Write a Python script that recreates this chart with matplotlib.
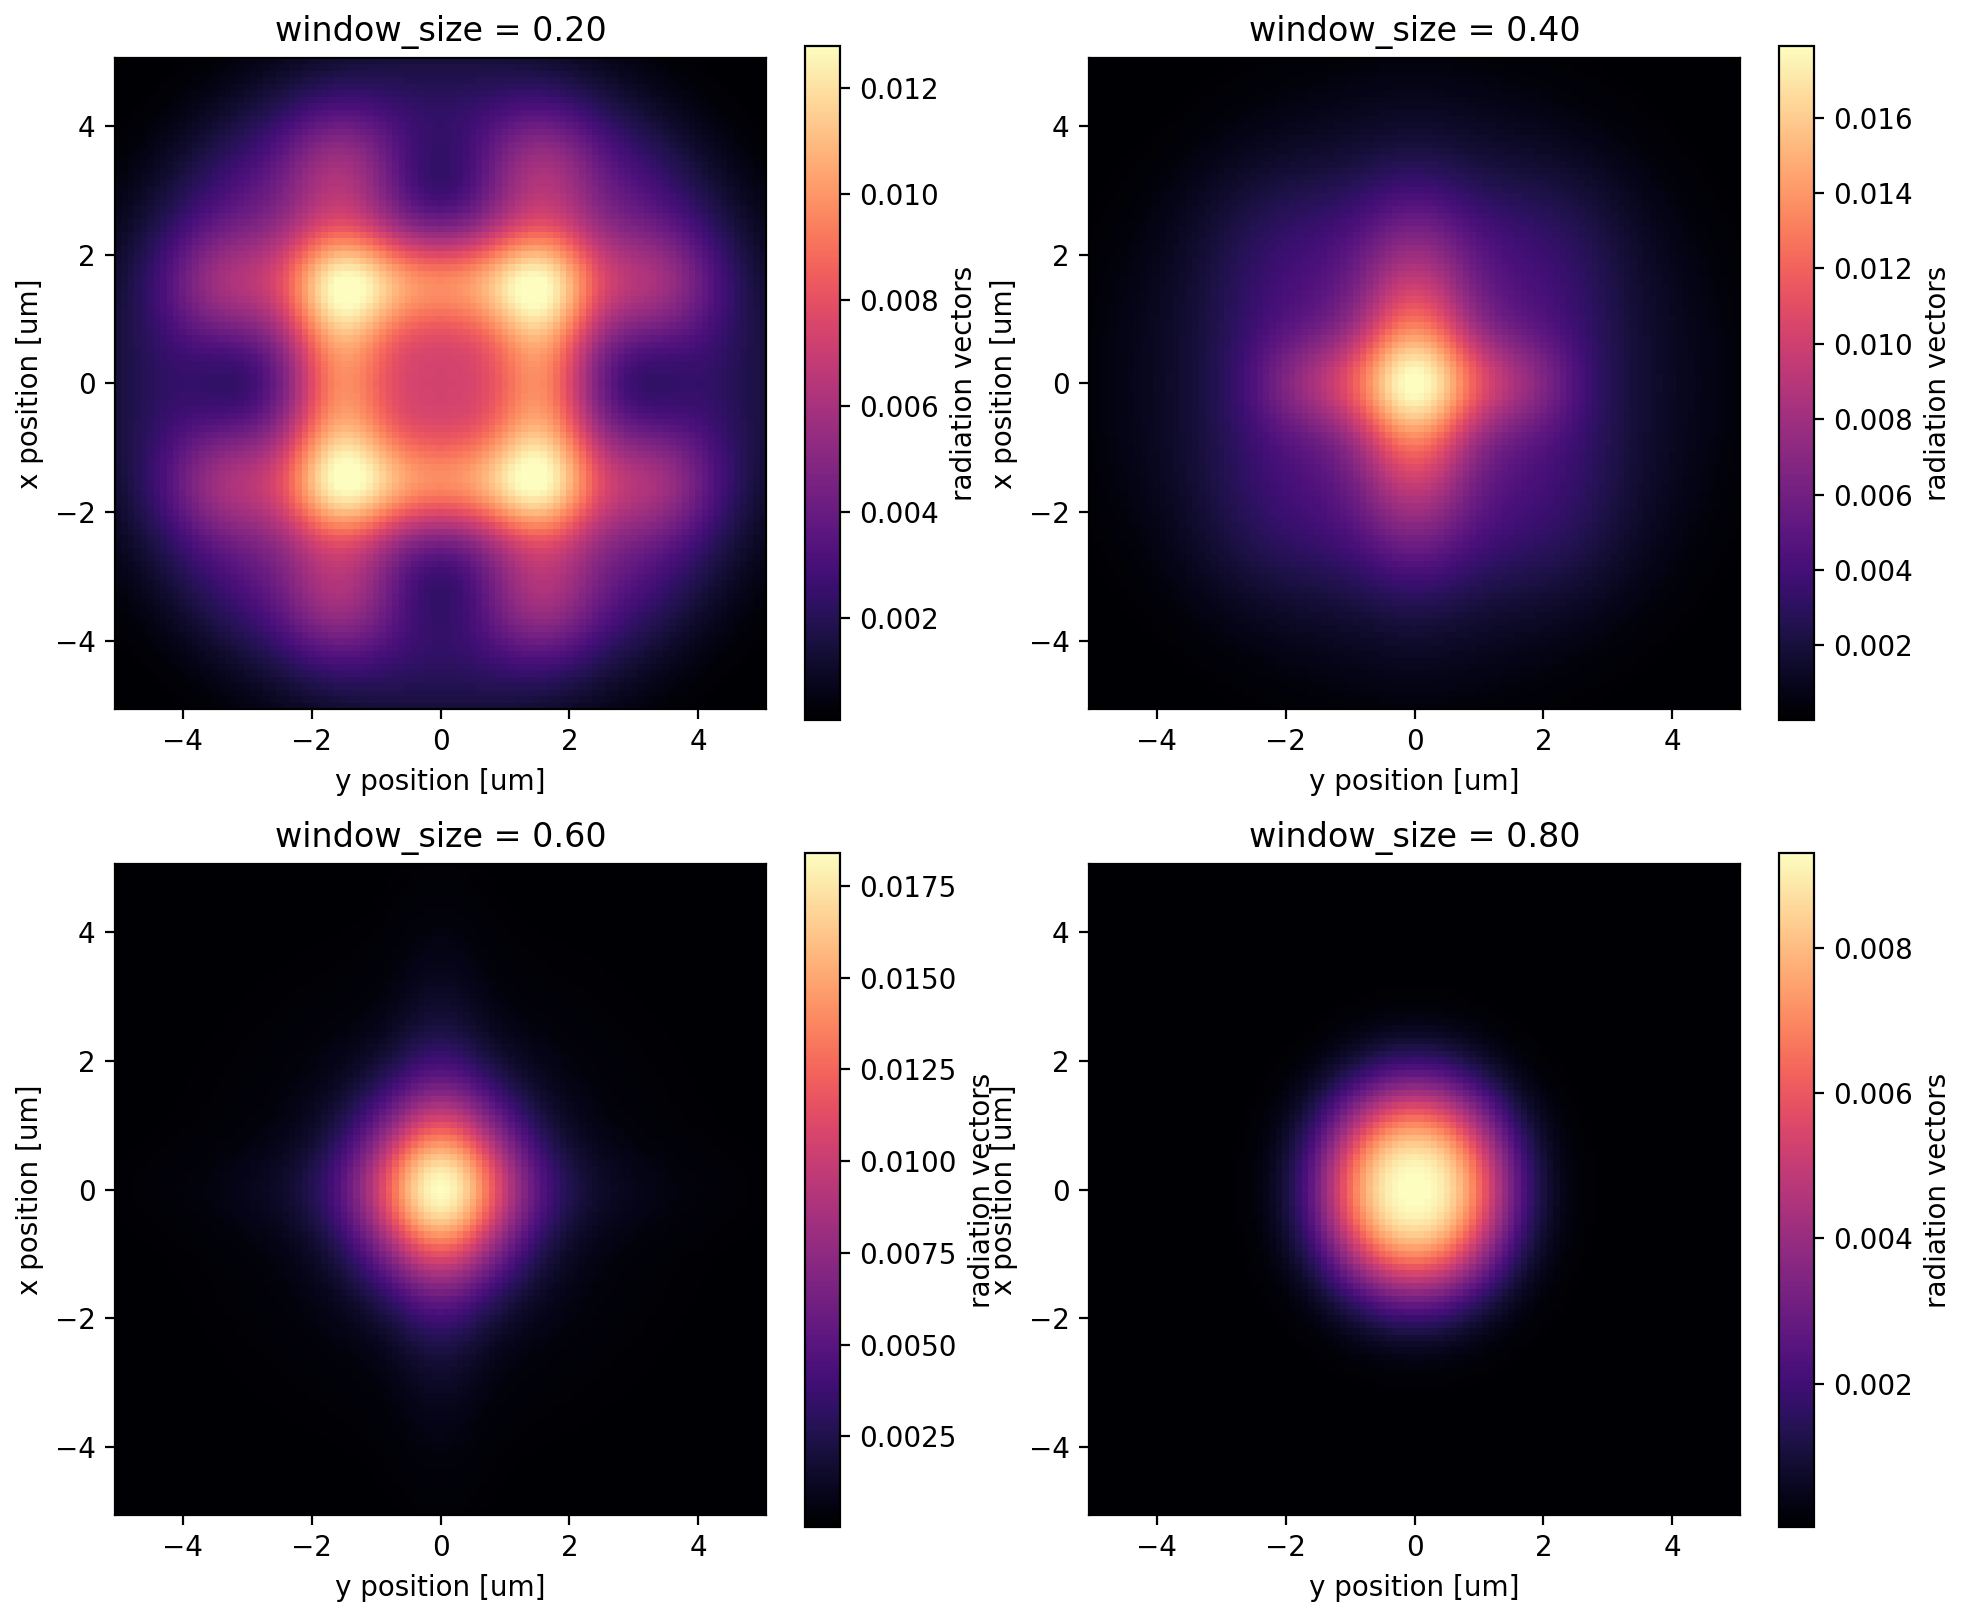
import numpy as np
import matplotlib
matplotlib.use("Agg")
import matplotlib.pyplot as plt

# grid (um), 101 samples per axis
grid = np.linspace(-5, 5, 101)

window_sizes = [0.20, 0.40, 0.60, 0.80]
vmins = [0.00008, 0.00002, 0.00003, 0.00003]
vmaxs = [0.0128, 0.0179, 0.0184, 0.0093]

# components: centre on the horizontal axis (h) and
# vertical axis (v), widths, edge powers, amplitude
# window 0.20: centre, 4 bars, 4 bright spots, 4 dips, 8 outer lobes, 4 corners
comp_020_h = [0.0, 1.58, -1.58, 0.0, 0.0, 1.58, -1.58, 1.58, -1.58,
              0.0, 0.0, 3.15, -3.15,
              1.58, -1.58, 1.58, -1.58, 3.3, -3.3, 3.3, -3.3,
              3.0, -3.0, 3.0, -3.0]
comp_020_v = [0.0, 0.0, 0.0, 1.58, -1.58, 1.58, 1.58, -1.58, -1.58,
              3.15, -3.15, 0.0, 0.0,
              3.3, 3.3, -3.3, -3.3, 1.58, 1.58, -1.58, -1.58,
              3.0, 3.0, -3.0, -3.0]
comp_020_sh = [1.0, 0.55, 0.55, 1.0, 1.0, 0.68, 0.68, 0.68, 0.68,
               0.55, 0.55, 0.55, 0.55,
               0.65, 0.65, 0.65, 0.65, 0.7, 0.7, 0.7, 0.7,
               0.7, 0.7, 0.7, 0.7]
comp_020_sv = [1.0, 1.0, 1.0, 0.55, 0.55, 0.68, 0.68, 0.68, 0.68,
               0.55, 0.55, 0.55, 0.55,
               0.7, 0.7, 0.7, 0.7, 0.65, 0.65, 0.65, 0.65,
               0.7, 0.7, 0.7, 0.7]
comp_020_amp = [0.0039, 0.0046, 0.0046, 0.0046, 0.0046,
                0.0066, 0.0066, 0.0066, 0.0066,
                -0.0009, -0.0009, -0.0009, -0.0009,
                0.0030, 0.0030, 0.0030, 0.0030, 0.0030, 0.0030, 0.0030, 0.0030,
                0.0006, 0.0006, 0.0006, 0.0006]
comp_020_ph = [2.0] * 25
comp_020_pv = [2.0] * 25

# window 0.40: small core, vertical arm, flat-topped horizontal arm
comp_040_h = [0.0, 0.0, 0.0]
comp_040_v = [0.0, 0.0, 0.0]
comp_040_sh = [0.5, 0.62, 1.9]
comp_040_sv = [0.5, 1.55, 0.55]
comp_040_amp = [0.0004, 0.0085, 0.0045]
comp_040_ph = [2.0, 2.0, 4.0]
comp_040_pv = [2.0, 2.0, 2.0]

# window 0.60: bright core, weak cross
comp_060_h = [0.0, 0.0, 0.0]
comp_060_v = [0.0, 0.0, 0.0]
comp_060_sh = [0.9, 0.5, 2.2]
comp_060_sv = [1.0, 2.2, 0.5]
comp_060_amp = [0.0141, 0.0022, 0.0013]
comp_060_ph = [2.0, 2.0, 2.0]
comp_060_pv = [2.0, 2.0, 2.0]

# window 0.80: single round flat-top spot
spot_080_w_h = 1.47
spot_080_w_v = 1.65
spot_080_pow = 2.5
spot_080_amp = 0.0093

# round background pedestal per window: amplitude, radius, edge power
disc_amp = [0.0030, 0.0015, 0.0008, 0.00005]
disc_rad = [5.3, 4.8, 3.2, 3.0]
disc_pow = [6.0, 6.0, 2.5, 2.5]
# rounded square plateau per window: amplitude, half width
plateau_amp = [0.0, 0.0032, 0.0, 0.0]
plateau_half = [1.0, 3.0, 1.0, 1.0]

components = [
    (comp_020_h, comp_020_v, comp_020_sh, comp_020_sv, comp_020_ph, comp_020_pv, comp_020_amp),
    (comp_040_h, comp_040_v, comp_040_sh, comp_040_sv, comp_040_ph, comp_040_pv, comp_040_amp),
    (comp_060_h, comp_060_v, comp_060_sh, comp_060_sv, comp_060_ph, comp_060_pv, comp_060_amp),
    ([], [], [], [], [], [], []),
]

# Hg runs along the horizontal axis (y position), Vg along the vertical (x position)
Hg, Vg = np.meshgrid(grid, grid)


def build_field(i):
    r = np.sqrt(Hg**2 + Vg**2)
    field = disc_amp[i] * np.exp(-(r / disc_rad[i]) ** disc_pow[i])
    field += plateau_amp[i] * np.exp(-(np.abs(Hg) / plateau_half[i]) ** 4
                                     - (np.abs(Vg) / plateau_half[i]) ** 4)
    for h, v, sh, sv, ph, pv, a in zip(*components[i]):
        field += a * np.exp(-0.5 * np.abs((Hg - h) / sh) ** ph
                            - 0.5 * np.abs((Vg - v) / sv) ** pv)
    if i == 3:
        rr = np.sqrt((Hg / spot_080_w_h) ** 2 + (Vg / spot_080_w_v) ** 2)
        field += spot_080_amp * np.exp(-rr ** spot_080_pow)
    return np.clip(field, vmins[i], None)


W, H = 1966, 1617
fig = plt.figure(figsize=(W / 200, H / 200), dpi=200)

col_left = [115, 1089]
cbar_left = [805, 1779]
row_top = [58, 864]
cbar_top = [46, 853]
ax_size = 651
cbar_w, cbar_h = 35, 674

for i, ws in enumerate(window_sizes):
    row, col = divmod(i, 2)
    ax = fig.add_axes([col_left[col] / W, 1 - (row_top[row] + ax_size) / H,
                       ax_size / W, ax_size / H])
    cax = fig.add_axes([cbar_left[col] / W, 1 - (cbar_top[row] + cbar_h) / H,
                        cbar_w / W, cbar_h / H])
    field = build_field(i)
    mesh = ax.pcolormesh(grid, grid, field, cmap='magma', shading='nearest',
                         vmin=vmins[i], vmax=vmaxs[i])
    ax.set_title(f"window_size = {ws:.2f}")
    ax.set_xlabel("y position [um]")
    ax.set_ylabel("x position [um]")
    fig.colorbar(mesh, cax=cax, label="radiation vectors")

fig.savefig("out.png", dpi=200)
